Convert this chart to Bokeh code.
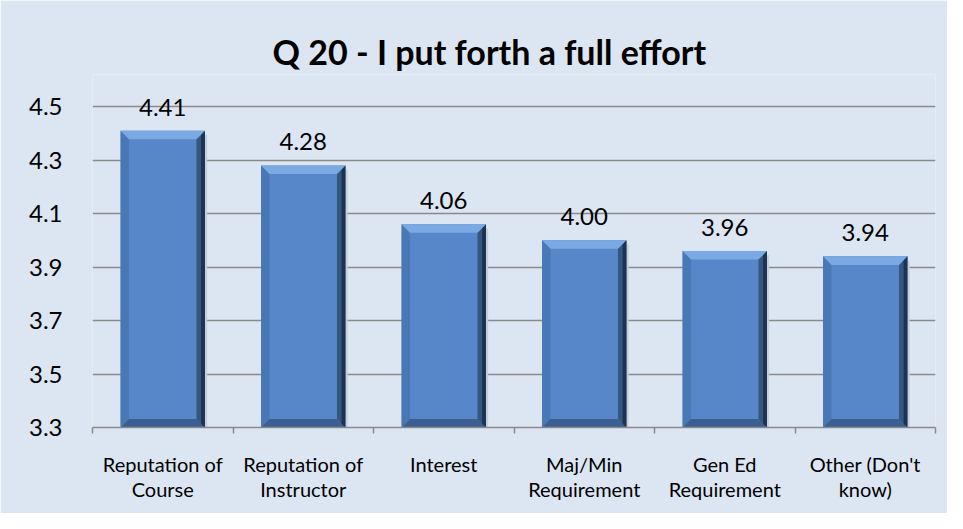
from bokeh.plotting import figure
from bokeh.models import Range1d, FixedTicker, ColumnDataSource, LabelSet
from bokeh.core.properties import value
from bokeh.embed import file_html
from bokeh.resources import INLINE

categories = ["Reputation of\nCourse", "Reputation of\nInstructor", "Interest",
              "Maj/Min\nRequirement", "Gen Ed\nRequirement", "Other (Don't\nknow)"]
values = [4.41, 4.28, 4.06, 4.00, 3.96, 3.94]
y_ticks = [3.3, 3.5, 3.7, 3.9, 4.1, 4.3, 4.5]
title_text = "Q 20 - I put forth a full effort"

BG = "#dce6f2"
FONT = "Lato"
y0, y1 = 3.3, 4.62   # headroom above the 4.5 gridline so the top label is not clipped

p = figure(width=947, height=513, output_backend="svg", toolbar_location=None,
           x_range=Range1d(0.5, len(values) + 0.5), y_range=Range1d(y0, y1),
           min_border_left=92, min_border_right=12, min_border_top=74, min_border_bottom=86)
p.background_fill_color = BG
p.border_fill_color = BG
p.outline_line_color = None

p.title.text = title_text
p.title.text_font = FONT
p.title.text_font_size = "34px"
p.title.text_font_style = "bold"
p.title.align = "left"
p.title.offset = 180
p.title.text_color = "#000000"
p.title.standoff = 6

# geometry of bars
idx = list(range(1, len(values) + 1))
h = 0.3
dx = 0.06
dy = 0.032
b = y0

face = ColumnDataSource(dict(left=[c - h for c in idx], right=[c + h for c in idx],
                             top=values, bottom=[b] * len(values)))
p.quad(left="left", right="right", top="top", bottom="bottom", source=face,
       fill_color="#5787c8", line_color=None)

top_xs, top_ys, left_xs, left_ys, right_xs, right_ys, bot_xs, bot_ys = ([] for _ in range(8))
rout_xs, rout_ys, sh_xs, sh_ys = [], [], [], []
for c, t in zip(idx, values):
    top_xs.append([c - h, c + h, c + h - dx, c - h + dx])
    top_ys.append([t, t, t - dy, t - dy])
    left_xs.append([c - h, c - h + dx, c - h + dx, c - h])
    left_ys.append([t, t - dy, b + dy, b])
    right_xs.append([c + h, c + h, c + h - dx, c + h - dx])
    right_ys.append([t, b, b + dy, t - dy])
    bot_xs.append([c - h, c + h, c + h - dx, c - h + dx])
    bot_ys.append([b, b, b + dy, b + dy])
    rout_xs.append([c + h, c + h, c + h - dx * 0.45, c + h - dx * 0.45])
    rout_ys.append([t, b, b + dy * 0.45, t - dy * 0.45])
    sh_xs.append([c + h, c + h + 0.016, c + h + 0.016, c + h])
    sh_ys.append([t - 0.5 * dy, t - 0.5 * dy, b, b])

p.patches(sh_xs, sh_ys, fill_color="#c4cfdc", line_color=None)
p.patches(left_xs, left_ys, fill_color="#4a78b6", line_color=None)
p.patches(bot_xs, bot_ys, fill_color="#3b5f90", line_color=None)
p.patches(right_xs, right_ys, fill_color="#34567f", line_color=None)
p.patches(rout_xs, rout_ys, fill_color="#1e3352", line_color=None)
p.patches(top_xs, top_ys, fill_color="#7aa9e3", line_color=None)

# data labels
lab_src = ColumnDataSource(dict(x=idx, y=values, text=[f"{v:.2f}" for v in values]))
labels = LabelSet(x="x", y="y", text="text", source=lab_src,
                  text_font=value(FONT), text_font_size="24px", text_align="center",
                  text_baseline="bottom", y_offset=15, text_color="#000000")
p.add_layout(labels)

# y axis
p.yaxis.ticker = FixedTicker(ticks=y_ticks)
p.yaxis.axis_line_color = None
p.yaxis.major_tick_line_color = None
p.yaxis.minor_tick_line_color = None
p.yaxis.major_label_text_font = FONT
p.yaxis.major_label_text_font_size = "24px"
p.yaxis.major_label_text_color = "#000000"
p.yaxis.major_label_standoff = 24

p.ygrid.ticker = FixedTicker(ticks=y_ticks)
p.ygrid.grid_line_color = "#8a8a8a"
p.ygrid.grid_line_width = 1.5
p.xgrid.grid_line_color = None

# x axis
p.xaxis.ticker = FixedTicker(ticks=idx, minor_ticks=[c - 0.5 for c in idx] + [idx[-1] + 0.5])
p.xaxis.major_label_overrides = {c: lab for c, lab in zip(idx, categories)}
p.xaxis.major_tick_line_color = None
p.xaxis.minor_tick_line_color = "#8a8a8a"
p.xaxis.minor_tick_line_width = 1.5
p.xaxis.minor_tick_in = 0
p.xaxis.minor_tick_out = 6
p.xaxis.axis_line_color = "#8a8a8a"
p.xaxis.axis_line_width = 1.5
p.xaxis.major_label_text_font = FONT
p.xaxis.major_label_text_font_size = "20px"
p.xaxis.major_label_text_color = "#000000"
p.xaxis.major_label_text_line_height = 1.05
p.xaxis.major_label_standoff = 18

open("out.html", "w").write(file_html(p, INLINE))
